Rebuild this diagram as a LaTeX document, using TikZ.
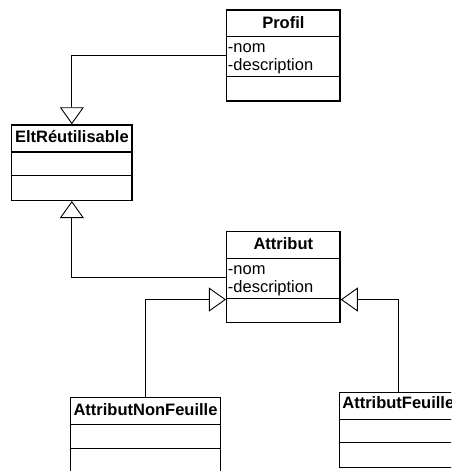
\documentclass[tikz,border=0pt]{standalone}
\usepackage{fontspec}
\setmainfont{Liberation Sans}
\usetikzlibrary{arrows.meta}

\tikzset{
  classbox/.style={draw, line width=1.5pt, inner sep=0pt, fill=white,
                   minimum width=#1},
  classbox/.default=113.3pt,
  classname/.style={anchor=base, inner sep=0pt,
                    font=\fontsize{16.5}{18}\selectfont\bfseries},
  attr/.style={anchor=base west, inner sep=0pt,
               font=\fontsize{16.5}{18}\selectfont},
  part/.style={line width=1.5pt},
  gen/.style={line width=0.9pt,
              -{Triangle[open, length=17pt, width=24pt, line width=0.9pt]}}
}

\begin{document}
\begin{tikzpicture}[x=1pt, y=-1pt]
  \useasboundingbox (0,0) rectangle (451,471);
  \clip (0,0) rectangle (451,471);

  % Profil
  \node[classbox, minimum height=91pt] (profil) at (283.35,55.5) {};
  \draw[part] ([yshift=-27.3pt]profil.north west) -- ([yshift=-27.3pt]profil.north east);
  \draw[part] ([yshift=-67.3pt]profil.north west) -- ([yshift=-67.3pt]profil.north east);
  \node[classname] (profilname) at ([yshift=-19pt]profil.north) {Profil};
  \node[attr] (profilnom) at ([xshift=1.8pt,yshift=-43.5pt]profil.north west) {-nom};
  \node[attr] (profildesc) at ([xshift=1.8pt,yshift=-61.6pt]profil.north west) {-description};

  % EltRéutilisable
  \node[classbox=120.3pt, minimum height=75.3pt] (elt) at (71.85,162.65) {};
  \draw[part] ([yshift=-27.7pt]elt.north west) -- ([yshift=-27.7pt]elt.north east);
  \draw[part] ([yshift=-51pt]elt.north west) -- ([yshift=-51pt]elt.north east);
  \node[classname] (eltname) at ([yshift=-17.8pt]elt.north) {EltRéutilisable};

  % Attribut
  \node[classbox, minimum height=91pt] (attribut) at (283.35,277.2) {};
  \draw[part] ([yshift=-27.6pt]attribut.north west) -- ([yshift=-27.6pt]attribut.north east);
  \draw[part] ([yshift=-67.6pt]attribut.north west) -- ([yshift=-67.6pt]attribut.north east);
  \node[classname] (attributname) at ([yshift=-19pt]attribut.north) {Attribut};
  \node[attr] (attributnom) at ([xshift=1.8pt,yshift=-43.8pt]attribut.north west) {-nom};
  \node[attr] (attributdesc) at ([xshift=1.8pt,yshift=-61.6pt]attribut.north west) {-description};
  \coordinate (attrL) at ([yshift=-68.6pt]attribut.north west);
  \coordinate (attrR) at ([yshift=-68.6pt]attribut.north east);

  % AttributNonFeuille
  \node[classbox=150.4pt, minimum height=75pt] (nonfeuille) at (145.5,435.2) {};
  \draw[part] ([yshift=-27.3pt]nonfeuille.north west) -- ([yshift=-27.3pt]nonfeuille.north east);
  \draw[part] ([yshift=-51.3pt]nonfeuille.north west) -- ([yshift=-51.3pt]nonfeuille.north east);
  \node[classname] (nonfeuillename) at ([yshift=-18.3pt]nonfeuille.north) {AttributNonFeuille};

  % AttributFeuille
  \node[classbox=118pt, minimum height=75pt] (feuille) at (398.3,429.8) {};
  \draw[part] ([yshift=-27.7pt]feuille.north west) -- ([yshift=-27.7pt]feuille.north east);
  \draw[part] ([yshift=-51pt]feuille.north west) -- ([yshift=-51pt]feuille.north east);
  \node[classname] (feuillename) at ([yshift=-16.5pt]feuille.north) {AttributFeuille};

  % Generalisations
  \draw[gen] (profil.west) -| (elt.north);
  \draw[gen] (attribut.west) -| (elt.south);
  \draw[gen] (nonfeuille.north) |- (attrL);
  \draw[gen] (feuille.north) |- (attrR);
\end{tikzpicture}
\end{document}
